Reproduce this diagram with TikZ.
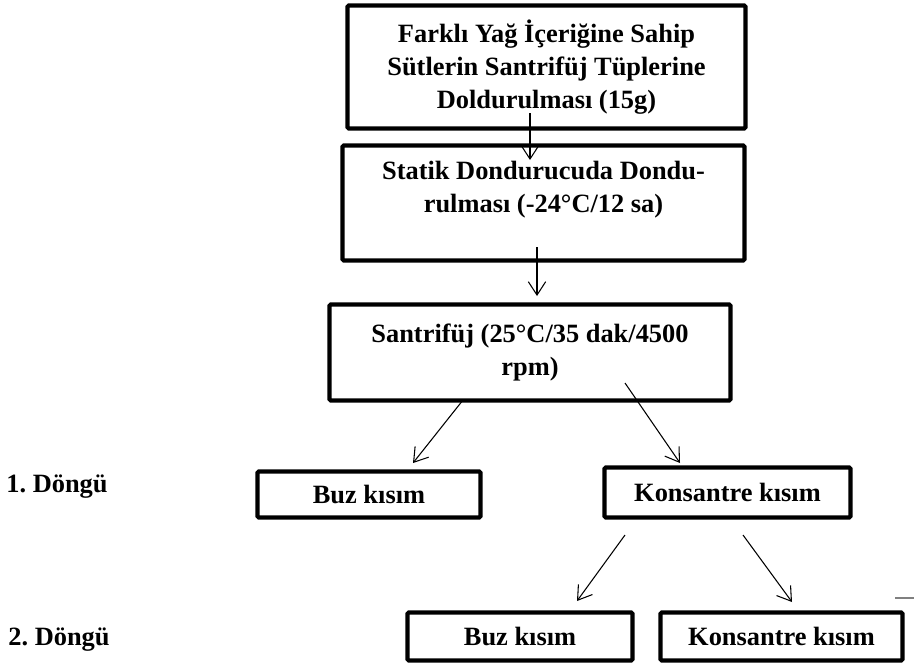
\documentclass[tikz,border=0pt]{standalone}
\usepackage{fontspec}
\setmainfont{Liberation Serif}
\usetikzlibrary{arrows.meta}
\frenchspacing

\begin{document}
\begin{tikzpicture}[x=0.75pt, y=-0.75pt,
    box/.style={draw, line width=3.2pt, rounded corners=1pt, align=center, inner sep=0pt,
        font=\fontsize{19.8}{24.75}\selectfont\bfseries},
    lbl/.style={font=\fontsize{19.8}{24.75}\selectfont\bfseries},
    flow/.style={-{Straight Barb[length=10pt, width=13pt]}, line width=0.8pt}]
    \useasboundingbox (0, 0) rectangle (914, 669);

    \node[box, minimum width=298.5pt, minimum height=92.25pt] at (546.5, 67) (fill) {Farklı Yağ İçeriğine Sahip\\Sütlerin Santrifüj Tüplerine\\Doldurulması (15g)};
    \node[box, minimum width=301.5pt, minimum height=86.25pt] at (543.5, 203) (freeze) {Statik Dondurucuda Dondu-\\rulması (-24°C/12 sa)\\\mbox{}};
    \node[box, minimum width=300.75pt, minimum height=72pt] at (530, 352.5) (spin) {Santrifüj (25°C/35 dak/4500\\rpm)};

    \node[lbl] at (57, 487) (cycle1) {1. Döngü};
    \node[box, minimum width=167.25pt, minimum height=34.5pt] at (369, 494.5) (ice1) {Buz kısım};
    \node[box, minimum width=184.5pt, minimum height=37.5pt] at (727.5, 492.5) (conc1) {Konsantre kısım};

    \node[lbl] at (59, 640) (cycle2) {2. Döngü};
    \node[box, minimum width=168.75pt, minimum height=36pt] at (520, 636.5) (ice2) {Buz kısım};
    \node[box, minimum width=181.5pt, minimum height=36pt] at (781.5, 636.5) (conc2) {Konsantre kısım};

    \coordinate (a1s) at (530, 113);
    \coordinate (a1e) at (530, 160);
    \coordinate (a2s) at (537, 247);
    \coordinate (a2e) at (537, 296);
    \coordinate (a3s) at (463, 400);
    \coordinate (a3e) at (413, 463);
    \coordinate (a4s) at (625, 383);
    \coordinate (a4e) at (680, 463);
    \coordinate (a5s) at (625, 535);
    \coordinate (a5e) at (577, 601);
    \coordinate (a6s) at (743, 535);
    \coordinate (a6e) at (792, 602);

    \draw[flow] (a1s) -- (a1e);
    \draw[flow] (a2s) -- (a2e);
    \draw[flow] (a3s) -- (a3e);
    \draw[flow] (a4s) -- (a4e);
    \draw[flow] (a5s) -- (a5e);
    \draw[flow] (a6s) -- (a6e);

    \coordinate (m1) at (895, 598);
    \coordinate (m2) at (914, 598);
    \draw[gray, line width=1.5pt] (m1) -- (m2);
\end{tikzpicture}
\end{document}
